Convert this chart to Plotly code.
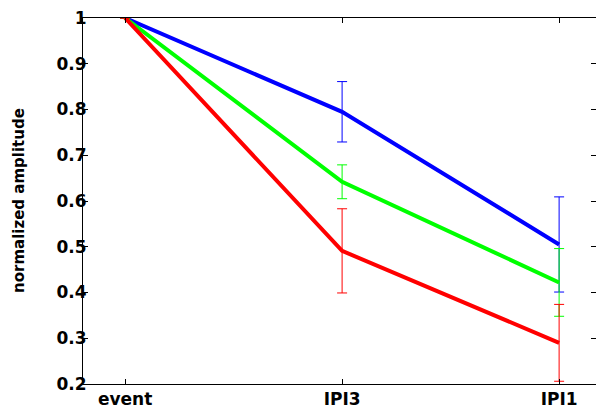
import plotly.graph_objects as go

categories = ["event", "IPI3", "IPI1"]
blue_vals = [1.0, 0.795, 0.505]
blue_err = [0.0, 0.066, 0.104]
green_vals = [1.0, 0.642, 0.422]
green_err = [0.0, 0.037, 0.074]
red_vals = [1.0, 0.491, 0.290]
red_err = [0.0, 0.092, 0.084]
y_ticks = [0.2, 0.3, 0.4, 0.5, 0.6, 0.7, 0.8, 0.9, 1.0]
y_ticklabels = ["0.2", "0.3", "0.4", "0.5", "0.6", "0.7", "0.8", "0.9", "1"]

series = [
    ("blue", blue_vals, blue_err, "#0000FF"),
    ("green", green_vals, green_err, "#00FF00"),
    ("red", red_vals, red_err, "#FF0000"),
]

xpos = list(range(len(categories)))
fig = go.Figure()
for name, vals, errs, col in series:
    fig.add_trace(go.Scatter(
        x=xpos, y=vals, mode="lines", name=name,
        line=dict(color=col, width=4),
        error_y=dict(type="data", array=errs, visible=True, color=col, thickness=1, width=5),
        showlegend=False,
    ))

font_family = "DejaVu Sans"
fig.update_layout(
    width=596, height=409,
    margin=dict(l=83, r=0, t=18, b=25, autoexpand=False),
    paper_bgcolor="white", plot_bgcolor="white",
    font=dict(family=font_family, color="black"),
    annotations=[dict(
        text="<b>normalized amplitude</b>", xref="paper", yref="paper",
        x=0, y=0.5, xanchor="center", yanchor="middle", xshift=-64,
        textangle=-90, showarrow=False, font=dict(size=15, family=font_family),
    )],
)
fig.update_xaxes(
    range=[-0.194, 2.17],
    tickmode="array", tickvals=xpos, ticktext=["<b>%s</b>" % c for c in categories],
    tickfont=dict(size=17, family=font_family),
    ticks="inside", ticklen=5, tickcolor="black",
    showline=True, linecolor="black", linewidth=1, mirror="ticks",
    showgrid=False, zeroline=False, automargin=False,
)
fig.update_yaxes(
    range=[0.2, 1.0],
    tickmode="array", tickvals=y_ticks, ticktext=["<b>%s</b>" % t for t in y_ticklabels],
    tickfont=dict(size=17, family=font_family),
    ticks="inside", ticklen=5, tickcolor="black",
    showline=True, linecolor="black", linewidth=1, mirror="ticks",
    showgrid=False, zeroline=False, automargin=False, ticklabelstandoff=-8,
)
fig.write_html("out.html", config={"displayModeBar": False},
               post_script="document.body.style.margin='0px';")
